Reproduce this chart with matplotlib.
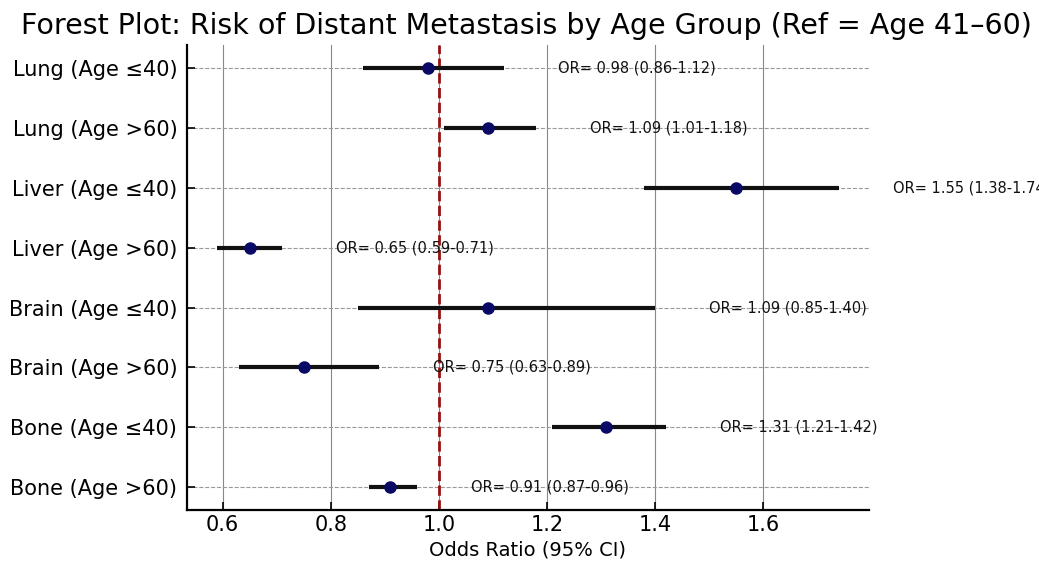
import matplotlib
matplotlib.use("Agg")
import matplotlib.pyplot as plt

labels = ["Lung (Age ≤40)", "Lung (Age >60)", "Liver (Age ≤40)", "Liver (Age >60)",
          "Brain (Age ≤40)", "Brain (Age >60)", "Bone (Age ≤40)", "Bone (Age >60)"]
odds = [0.98, 1.09, 1.55, 0.65, 1.09, 0.75, 1.31, 0.91]
lower = [0.86, 1.01, 1.38, 0.59, 0.85, 0.63, 1.21, 0.87]
upper = [1.12, 1.18, 1.74, 0.71, 1.40, 0.89, 1.42, 0.96]
xticks = [0.6, 0.8, 1.0, 1.2, 1.4, 1.6]

fig = plt.figure(figsize=(10.39, 5.63), dpi=100)
ax = fig.add_axes([0.18, 0.094, 0.656, 0.826])

ypos = list(range(len(labels)))
for y, o, lo, hi in zip(ypos, odds, lower, upper):
    ax.plot([lo, hi], [y, y], color="#111111", lw=3, solid_capstyle="butt", zorder=3)
    ax.plot(o, y, "o", color="#0a0a66", markersize=8, zorder=4)
    ax.text(hi + 0.1, y, f"OR= {o:.2f} ({lo:.2f}-{hi:.2f})", va="center", ha="left",
            fontsize=10.5, color="#111111", clip_on=False, zorder=5)

ax.axvline(1.0, color="#961010", ls="--", lw=2, zorder=2)

ax.set_yticks(ypos)
ax.set_yticklabels(labels, fontsize=15)
ax.set_xticks(xticks)
ax.set_xticklabels([f"{t:.1f}" for t in xticks], fontsize=15)
ax.set_xlim(0.534, 1.795)
ax.set_ylim(7.38, -0.38)

ax.tick_params(direction="in", length=6, width=1.2)
ax.tick_params(axis="y", pad=7)
for side in ["top", "right"]:
    ax.spines[side].set_visible(False)
for side in ["left", "bottom"]:
    ax.spines[side].set_linewidth(1.6)

ax.grid(axis="x", color="#888888", lw=0.8, ls="-")
ax.grid(axis="y", color="#999999", lw=0.8, ls="--")
ax.set_axisbelow(True)

ax.set_xlabel("Odds Ratio (95% CI)", fontsize=14, labelpad=4)
fig.suptitle("Forest Plot: Risk of Distant Metastasis by Age Group (Ref = Age 41–60)",
             fontsize=20.5, x=0.5065, y=0.978)

fig.savefig("out.png", dpi=100)
